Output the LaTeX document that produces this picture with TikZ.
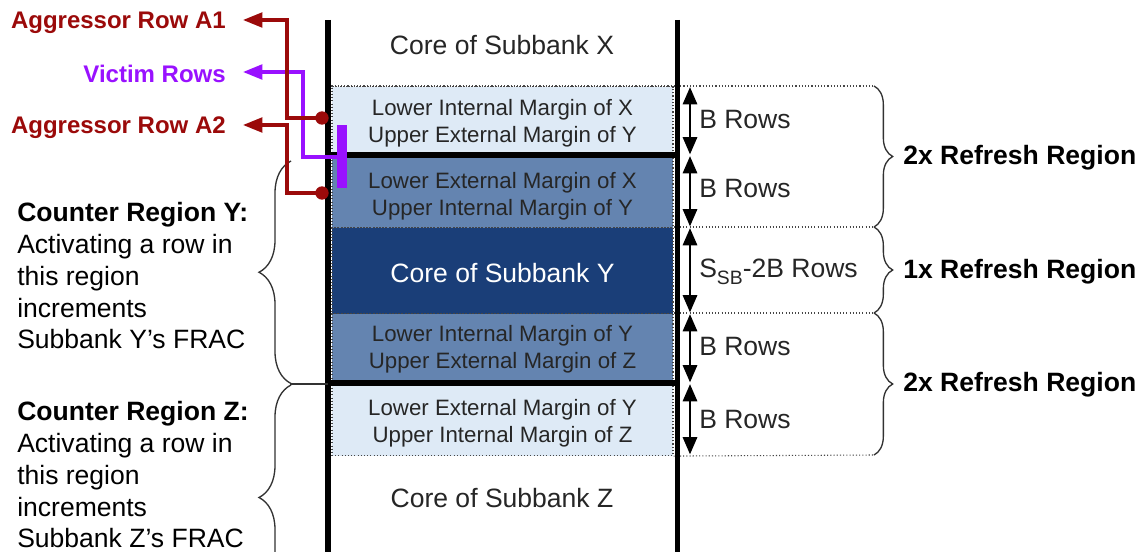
\documentclass[tikz,border=0pt]{standalone}
\usepackage{fontspec}
\setmainfont{Liberation Sans}
\usetikzlibrary{arrows.meta,decorations.pathreplacing}
\definecolor{lightband}{RGB}{222,234,246}
\definecolor{midband}{RGB}{100,132,176}
\definecolor{darkband}{RGB}{26,62,120}
\definecolor{aggred}{RGB}{155,10,10}
\definecolor{vicpurple}{RGB}{153,17,255}
\definecolor{bracegray}{RGB}{50,50,50}
\definecolor{dotgray}{RGB}{70,70,70}
\begin{document}
\begin{tikzpicture}[x=0.75pt,y=-0.75pt,
  bandbox/.style={draw=dotgray, dash pattern=on 0.8pt off 1.6pt, line width=0.8pt,
    minimum width=255.75pt, inner sep=0pt, anchor=north},
  bandtext/.style={align=center, inner sep=0pt, text=black!85,
    font=\fontsize{16.7}{20.25}\selectfont},
  coretext/.style={font=\fontsize{19.9}{24}\selectfont, text=black!85, inner sep=0pt},
  rowlbl/.style={font=\fontsize{19.9}{24}\selectfont, text=black!85, inner sep=0pt, anchor=west},
  reglbl/.style={font=\bfseries\fontsize{19.9}{24}\selectfont, inner sep=0pt, anchor=west},
  desc/.style={font=\fontsize{19.9}{23.9}\selectfont, align=left, inner sep=0pt, anchor=north west},
  rowtag/.style={font=\bfseries\fontsize{18}{20}\selectfont, inner sep=0pt, anchor=east},
  extline/.style={draw=dotgray, dash pattern=on 0.8pt off 1.6pt, line width=0.8pt},
  wall/.style={line width=3.9pt, black},
  dblarrow/.style={line width=2.2pt, {Triangle[length=13pt,width=10.5pt]}-{Triangle[length=13pt,width=10.5pt]}},
  redarrow/.style={draw=aggred, line width=2.3pt, -{Triangle[length=14.5pt,width=11pt]}},
  purparrow/.style={draw=vicpurple, line width=2.4pt, -{Triangle[length=14.5pt,width=11pt]}},
  reddot/.style={circle, fill=aggred, inner sep=0pt, minimum size=10pt},
  purpbar/.style={rectangle, fill=vicpurple, inner sep=0pt, minimum width=7.5pt, minimum height=47.25pt},
  rbrace/.style={draw=bracegray, line width=1pt, decorate, decoration={brace, amplitude=14pt}},
  lbrace/.style={draw=bracegray, line width=1pt, decorate, decoration={brace, amplitude=24pt}}
]
\useasboundingbox (0,0) rectangle (1144,552);
\clip (0,0) rectangle (1144,552);
\fill[white] (0,0) rectangle (1144,552);

% bands
\node[bandbox, fill=lightband, minimum height=51.75pt] (b1) at (502.5,86) {};
\node[bandbox, fill=midband, minimum height=54pt] (b2) at (502.5,155) {};
\node[bandbox, fill=darkband, minimum height=64.5pt] (b3) at (502.5,227) {};
\node[bandbox, fill=midband, minimum height=52.5pt] (b4) at (502.5,313) {};
\node[bandbox, fill=lightband, minimum height=54pt] (b5) at (502.5,383) {};

\node[bandtext] (t1) at (502.5,123.5) {Lower Internal Margin of X\\Upper External Margin of Y};
\node[bandtext] (t2) at (502.5,196) {Lower External Margin of X\\Upper Internal Margin of Y};
\node[coretext, text=white] (t3) at (502.5,273) {Core of Subbank Y};
\node[bandtext] (t4) at (502.5,349.5) {Lower Internal Margin of Y\\Upper External Margin of Z};
\node[bandtext] (t5) at (502.5,423.5) {Lower External Margin of Y\\Upper Internal Margin of Z};

\node[coretext] (cx) at (502,45) {Core of Subbank X};
\node[coretext] (cz) at (502,498.5) {Core of Subbank Z};

% extension dotted lines
\coordinate (e1) at (874,86);
\coordinate (e2) at (874,227);
\coordinate (e3) at (874,313);
\coordinate (e4) at (874,455);
\draw[extline] (b1.north west) -- (e1);
\draw[extline] (b3.north east) -- (e2);
\draw[extline] (b4.north east) -- (e3);
\draw[extline] (b5.south east) -- (e4);

% walls
\coordinate (wlt) at (328,20);
\coordinate (wlb) at (328,560);
\coordinate (wrt) at (677.5,20);
\coordinate (wrb) at (677.5,560);
\draw[wall] (wlt) -- (wlb);
\draw[wall] (wrt) -- (wrb);
\draw[wall] (wlt |- b2.north) -- (wrt |- b2.north);
\draw[wall] (wlt |- b5.north) -- (wrt |- b5.north);

% double arrows
\draw[dblarrow] (690,87) -- (690,154.5);
\draw[dblarrow] (690,156) -- (690,226.5);
\draw[dblarrow] (690,228) -- (690,312.5);
\draw[dblarrow] (690,314) -- (690,382.5);
\draw[dblarrow] (690,384) -- (690,454.5);

\node[rowlbl] (l1) at (699,120) {B Rows};
\node[rowlbl] (l2) at (699,189) {B Rows};
\node[rowlbl] (l3) at (699,272) {S\raisebox{-5pt}{\fontsize{14.5}{15}\selectfont SB}-2B Rows};
\node[rowlbl] (l4) at (699,347) {B Rows};
\node[rowlbl] (l5) at (699,419) {B Rows};

% right braces
\draw[rbrace] (e1) -- (e2);
\draw[rbrace] (e2) -- (e3);
\draw[rbrace] (e3) -- (e4);
\node[reglbl] (g1) at (903,158) {2x Refresh Region};
\node[reglbl] (g2) at (903,272) {1x Refresh Region};
\node[reglbl] (g3) at (903,385) {2x Refresh Region};

% left braces
\coordinate (ly1) at (291,161);
\coordinate (ly2) at (291,383.5);
\coordinate (lz1) at (291,385);
\coordinate (lz2) at (291,610);
\draw[lbrace] (ly2) -- (ly1);
\draw[lbrace] (lz2) -- (lz1);
\draw[draw=bracegray, line width=1pt] (290,384) -- (wlt |- 0,384);

\node[desc] (cy) at (17,202) {\textbf{Counter Region Y:}\\Activating a row in\\this region\\increments\\Subbank Y’s FRAC};
\node[desc] (cz2) at (17,401) {\textbf{Counter Region Z:}\\Activating a row in\\this region\\increments\\Subbank Z’s FRAC};

% row tags
\node[rowtag, text=aggred] (a1) at (226,22.5) {Aggressor Row A1};
\node[rowtag, text=vicpurple] (vr) at (226,73.5) {Victim Rows};
\node[rowtag, text=aggred] (a2) at (226,127.5) {Aggressor Row A2};

% connectors
\coordinate (pv) at (341,157);
\coordinate (a1p) at (243,20);
\coordinate (vrp) at (243,72);
\coordinate (a2p) at (243,125);
\draw[purparrow] (pv) -- (303,157) |- (vrp);
\node[purpbar] (bar) at (341.5,156.5) {};

\coordinate (d1c) at (322,118);
\coordinate (d2c) at (322,193);
\draw[redarrow] (d1c) -- (287,118) |- (a1p);
\draw[redarrow] (d2c) -- (287,193) |- (a2p);
\node[reddot] (d1) at (d1c) {};
\node[reddot] (d2) at (d2c) {};
\end{tikzpicture}
\end{document}
